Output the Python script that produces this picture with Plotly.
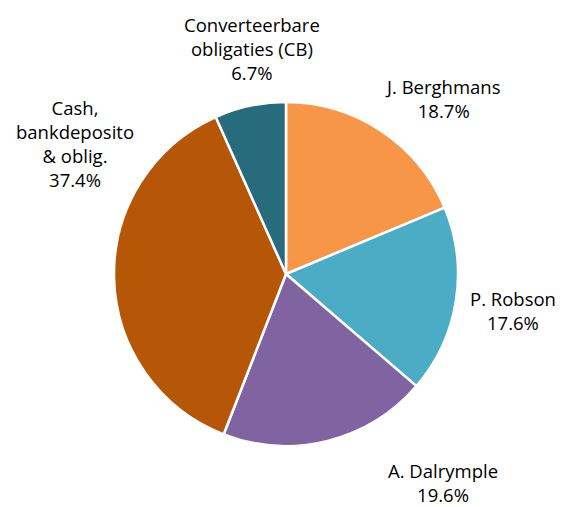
import plotly.graph_objects as go

categories = ["J. Berghmans", "P. Robson", "A. Dalrymple",
              "Cash,<br>bankdeposito<br>& oblig.", "Converteerbare<br>obligaties (CB)"]
values = [18.7, 17.6, 19.6, 37.4, 6.7]
colors = ["#F79646", "#4BACC6", "#8064A2", "#B65708", "#276B7C"]

# label centres in pixels (layout only)
label_pos = [(443, 98), (513, 310), (443, 482), (75, 143), (252, 49)]

W, H = 569, 507
OFF = 8  # page body margin
cx, cy, r = 286, 274, 172

def px_x(x):
    return (x - OFF) / W

def px_y(y):
    return 1 - (y - OFF) / H

fig = go.Figure(go.Pie(
    labels=categories,
    values=values,
    marker=dict(colors=colors, line=dict(color="white", width=2.5)),
    sort=False,
    direction="clockwise",
    rotation=0,
    textinfo="none",
    hoverinfo="label+percent",
    domain=dict(x=[px_x(cx - r), px_x(cx + r)],
                y=[px_y(cy + r), px_y(cy - r)]),
    showlegend=False,
))

total = sum(values)
for cat, v, (px, py) in zip(categories, values, label_pos):
    fig.add_annotation(
        x=px_x(px), y=px_y(py), xref="paper", yref="paper",
        xanchor="center", yanchor="middle",
        text=f"{cat}<br>{v / total * 100:.1f}%",
        showarrow=False, align="center",
        font=dict(family="Open Sans, Liberation Sans, Arial, sans-serif", size=18.5, color="#000000"),
    )

fig.update_layout(
    width=W, height=H,
    margin=dict(l=0, r=0, t=0, b=0),
    paper_bgcolor="white", plot_bgcolor="white",
)

fig.write_html("out.html")
